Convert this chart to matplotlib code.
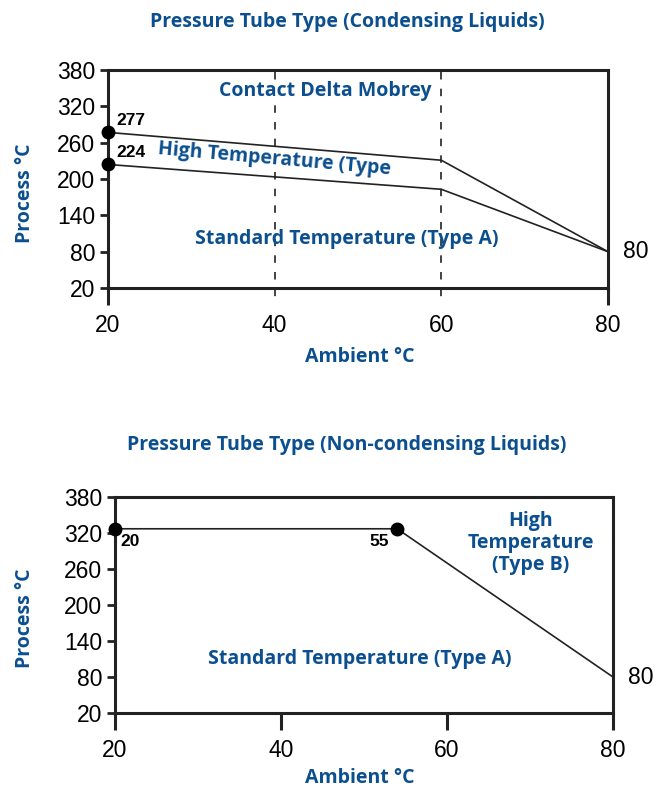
import matplotlib
matplotlib.use("Agg")
import matplotlib.pyplot as plt

# ---- data ----
x_ticks = [20, 40, 60, 80]
y_ticks = [20, 80, 140, 200, 260, 320, 380]

cond_x = [20, 60, 80]
cond_high = [277, 231, 80]
cond_std = [224, 183, 80]
cond_dividers = [40, 60]

noncond_x = [20, 54, 80]
noncond_y = [327, 327, 80]
noncond_point_labels = ["20", "55"]

BLUE = "#0b4f8f"
BLUE_FONT = ["Open Sans", "DejaVu Sans"]
NUM_FONT = ["Liberation Sans", "DejaVu Sans"]
BFS = 14  # blue text size

fig = plt.figure(figsize=(6.67, 7.91), dpi=100)

def style_axes(ax, ylab_xy, xlab_xy):
    ax.set_xlim(20, 80)
    ax.set_ylim(20, 380)
    for s in ax.spines.values():
        s.set_linewidth(2.2)
        s.set_color("#222222")
    ax.set_yticks(y_ticks)
    ax.set_yticklabels([str(v) for v in y_ticks], fontsize=16.5, family=NUM_FONT)
    ax.tick_params(axis="y", direction="out", length=6, width=2, pad=3, colors="#222222")
    ax.tick_params(axis="y", labelcolor="black")
    ax.set_xticks(x_ticks)
    ax.set_xticklabels([str(v) for v in x_ticks], fontsize=16.5, family=NUM_FONT)
    ax.tick_params(axis="x", direction="out", length=12, width=2.2, pad=7, colors="#222222")
    ax.tick_params(axis="x", labelcolor="black")
    ax.set_ylabel("Process °C", fontsize=BFS, color=BLUE, family=BLUE_FONT, weight="bold")
    ax.set_xlabel("Ambient °C", fontsize=BFS, color=BLUE, family=BLUE_FONT, weight="bold")
    ax.yaxis.set_label_coords(*ylab_xy)
    ax.yaxis.label.set_va("center")
    ax.xaxis.set_label_coords(*xlab_xy)
    ax.xaxis.label.set_va("center")

# ---------- top panel ----------
ax1 = fig.add_axes([0.1619, 0.6359, 0.7496, 0.2756])
style_axes(ax1, (-0.166, 0.436), (0.504, -0.317))
for t, xv in zip(ax1.xaxis.get_major_ticks(), x_ticks):
    if xv in cond_dividers:
        t.tick1line.set_visible(False)
for xv in cond_dividers:
    ax1.plot([xv, xv], [0.99, -0.07], transform=ax1.get_xaxis_transform(),
             color="#222222", lw=1.2, linestyle=(0, (4.5, 5.5)), clip_on=False, zorder=1)
ax1.plot(cond_x, cond_high, color="#222222", lw=1.2, zorder=2)
ax1.plot(cond_x, cond_std, color="#222222", lw=1.2, zorder=2)
ax1.plot([cond_x[0], cond_x[0]], [cond_high[0], cond_std[0]], "o", color="black",
         markersize=9, clip_on=False, zorder=5)
ax1.annotate(str(cond_high[0]), (cond_x[0], cond_high[0]), xytext=(6, 3),
             textcoords="offset points", fontsize=12.5, weight="bold", family=NUM_FONT, va="bottom")
ax1.annotate(str(cond_std[0]), (cond_x[0], cond_std[0]), xytext=(6, 3),
             textcoords="offset points", fontsize=12.5, weight="bold", family=NUM_FONT, va="bottom")
ax1.annotate(str(cond_high[-1]), (cond_x[-1], cond_high[-1]), xytext=(11, 0),
             textcoords="offset points", fontsize=16.5, family=NUM_FONT, va="center", annotation_clip=False)
ax1.text(0.434, 0.904, "Contact Delta Mobrey", transform=ax1.transAxes, ha="center", va="center",
         fontsize=BFS, color=BLUE, family=BLUE_FONT, weight="bold", zorder=4,
         bbox=dict(facecolor="white", edgecolor="none", pad=1))
ax1.text(0.098, 0.59, "High Temperature (Type", transform=ax1.transAxes, ha="left", va="center",
         fontsize=BFS, color=BLUE, family=BLUE_FONT, weight="bold", rotation=-5, zorder=4)
ax1.text(0.478, 0.225, "Standard Temperature (Type A)", transform=ax1.transAxes, ha="center", va="center",
         fontsize=BFS, color=BLUE, family=BLUE_FONT, weight="bold", zorder=4)
fig.text(0.52, 0.972, "Pressure Tube Type (Condensing Liquids)", ha="center", va="center",
         fontsize=BFS, color=BLUE, family=BLUE_FONT, weight="bold")

# ---------- bottom panel ----------
ax2 = fig.add_axes([0.1724, 0.0986, 0.7466, 0.2731])
style_axes(ax2, (-0.181, 0.44), (0.492, -0.30))
ax2.plot(noncond_x, noncond_y, color="#222222", lw=1.2, zorder=2)
ax2.plot(noncond_x[:2], noncond_y[:2], "o", color="black", markersize=9, clip_on=False, zorder=5)
ax2.annotate(noncond_point_labels[0], (noncond_x[0], noncond_y[0]), xytext=(4, -4),
             textcoords="offset points", fontsize=12.5, weight="bold", family=NUM_FONT, va="top", ha="left")
ax2.annotate(noncond_point_labels[1], (noncond_x[1], noncond_y[1]), xytext=(-6, -4),
             textcoords="offset points", fontsize=12.5, weight="bold", family=NUM_FONT, va="top", ha="right")
ax2.annotate(str(noncond_y[-1]), (noncond_x[-1], noncond_y[-1]), xytext=(11, 0),
             textcoords="offset points", fontsize=16.5, family=NUM_FONT, va="center", annotation_clip=False)
ax2.text(0.835, 0.787, "High\nTemperature\n(Type B)", transform=ax2.transAxes, ha="center", va="center",
         fontsize=BFS, color=BLUE, family=BLUE_FONT, weight="bold", linespacing=1.15)
ax2.text(0.492, 0.25, "Standard Temperature (Type A)", transform=ax2.transAxes, ha="center", va="center",
         fontsize=BFS, color=BLUE, family=BLUE_FONT, weight="bold")
fig.text(0.52, 0.437, "Pressure Tube Type (Non-condensing Liquids)", ha="center", va="center",
         fontsize=BFS, color=BLUE, family=BLUE_FONT, weight="bold")

fig.savefig("out.png", dpi=100)
